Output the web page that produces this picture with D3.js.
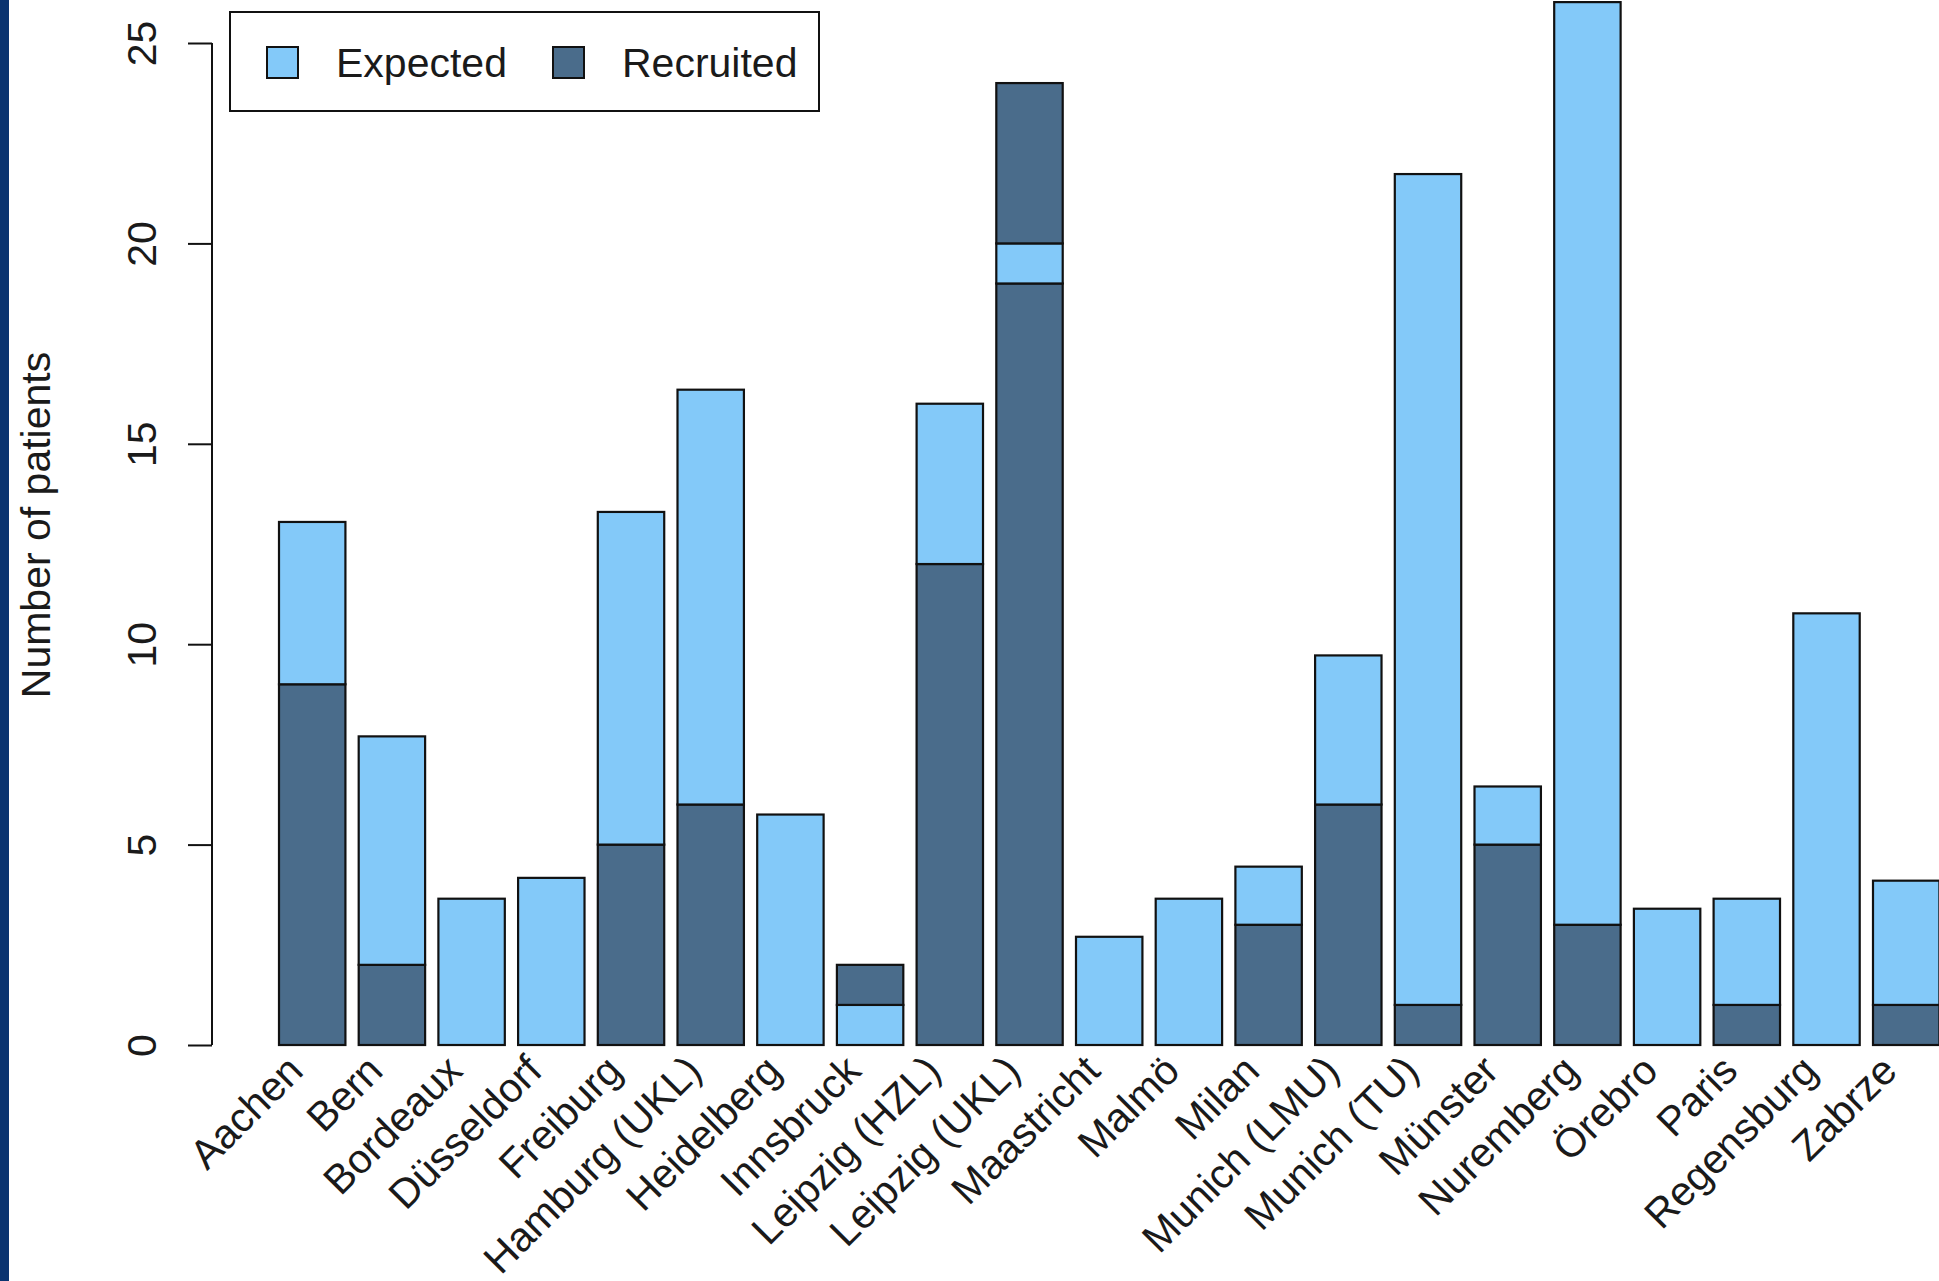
<!DOCTYPE html>
<html>
<head>
<meta charset="utf-8">
<script src="https://cdn.jsdelivr.net/npm/d3@7"></script>
<style>
  html, body { margin: 0; padding: 0; background: #ffffff; }
  svg { display: block; }
  text { font-family: "Liberation Sans", Arial, Helvetica, sans-serif; fill: #1a1a1a; }
</style>
</head>
<body>
<script>
// ---- data ----
const sites = ["Aachen", "Bern", "Bordeaux", "Düsseldorf", "Freiburg", "Hamburg (UKL)",
  "Heidelberg", "Innsbruck", "Leipzig (HZL)", "Leipzig (UKL)", "Maastricht", "Malmö",
  "Milan", "Munich (LMU)", "Munich (TU)", "Münster", "Nuremberg", "Örebro", "Paris",
  "Regensburg", "Zabrze"];
const expected = [13.05, 7.7, 3.65, 4.17, 13.3, 16.35, 5.75, 1, 16, 20, 2.7, 3.65,
  4.45, 9.72, 21.73, 6.45, 26.02, 3.4, 3.65, 10.77, 4.1];
const recruited = [9, 2, 0, 0, 5, 6, 0, 2, 12, 24, 0, 0, 3, 6, 1, 5, 3, 0, 1, 0, 1];
const yTicks = [0, 5, 10, 15, 20, 25];
const legendLabels = ["Expected", "Recruited"];

// ---- styling ----
const W = 1939, H = 1281;
const LIGHT = "#83c9f9", DARK = "#4a6c8b";
const FONT = 41;

const svg = d3.select("body").append("svg").attr("width", W).attr("height", H);
svg.append("rect").attr("width", W).attr("height", H).attr("fill", "#ffffff");
// dark slide edge on the left
svg.append("rect").attr("x", 0).attr("y", 0).attr("width", 9).attr("height", H).attr("fill", "#0a3470");

const step = 79.7, x0 = 279;
const x = d3.scaleBand().domain(sites)
  .range([x0, x0 + step * (sites.length - 1 / 6)])
  .paddingInner(1 / 6).paddingOuter(0);
const y = d3.scaleLinear().domain([0, 25]).range([1045, 43]);

// segments per site
const segs = [];
sites.forEach((s, i) => {
  const e = expected[i], r = recruited[i];
  if (r <= e) {
    segs.push({ s, a: 0, b: r, c: DARK });
    segs.push({ s, a: r, b: e, c: LIGHT });
  } else {
    segs.push({ s, a: 0, b: e - 1, c: DARK });
    segs.push({ s, a: e - 1, b: e, c: LIGHT });
    segs.push({ s, a: e, b: r, c: DARK });
  }
});

svg.append("g").selectAll("rect").data(segs).join("rect")
  .attr("x", d => x(d.s))
  .attr("width", x.bandwidth())
  .attr("y", d => y(d.b))
  .attr("height", d => Math.max(0, y(d.a) - y(d.b)))
  .attr("fill", d => d.c)
  .attr("stroke", "#111")
  .attr("stroke-width", 2.2);

// y axis (R style)
const axisX = 212;
const yAxis = d3.axisLeft(y).tickValues(yTicks).tickSize(24).tickFormat(d3.format("d"));
const gy = svg.append("g").attr("transform", `translate(${axisX},0)`).call(yAxis);
gy.select(".domain").attr("stroke", "#111").attr("stroke-width", 2)
  .attr("d", `M0,${y(0)}V${y(25)}`);
gy.selectAll(".tick line").attr("stroke", "#111").attr("stroke-width", 2);
gy.selectAll(".tick text")
  .attr("font-size", FONT)
  .attr("fill", "#1a1a1a")
  .attr("text-anchor", "middle")
  .attr("x", null).attr("dy", null)
  .attr("transform", function (d) { return `translate(${156 - axisX},0) rotate(-90)`; })
  .attr("y", 0);

// y axis title
svg.append("text")
  .attr("transform", `translate(50,525) rotate(-90)`)
  .attr("text-anchor", "middle")
  .attr("font-size", FONT)
  .text("Number of patients");

// x labels rotated 45
svg.append("g").selectAll("text").data(sites).join("text")
  .attr("transform", d => `translate(${x(d) + x.bandwidth() / 2 - 7},1073) rotate(-45)`)
  .attr("text-anchor", "end")
  .attr("font-size", FONT)
  .text(d => d);

// legend
const lg = svg.append("g");
lg.append("rect").attr("x", 230).attr("y", 12).attr("width", 589).attr("height", 99)
  .attr("fill", "#fff").attr("stroke", "#111").attr("stroke-width", 2);
const legendX = [267, 553];
const legendColors = [LIGHT, DARK];
legendLabels.forEach((lab, i) => {
  lg.append("rect").attr("x", legendX[i]).attr("y", 47).attr("width", 31).attr("height", 31)
    .attr("fill", legendColors[i]).attr("stroke", "#111").attr("stroke-width", 2);
  lg.append("text").attr("x", legendX[i] + 69).attr("y", 77)
    .attr("font-size", FONT).text(lab);
});
</script>
</body>
</html>
